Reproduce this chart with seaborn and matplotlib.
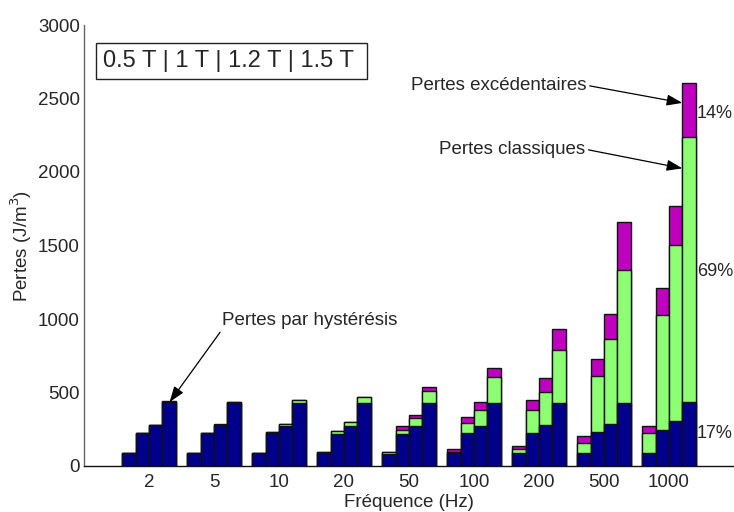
import matplotlib
matplotlib.use("Agg")
import matplotlib.pyplot as plt
import seaborn as sns
import pandas as pd

# Frequencies (x groups) and induction levels (bars in each group)
freqs = ['2', '5', '10', '20', '50', '100', '200', '500', '1000']
fields = ['0.5 T', '1 T', '1.2 T', '1.5 T']

# Hysteresis losses (J/m^3), one list per induction level
hyst_05 = [88, 88, 88, 88, 82, 88, 88, 88, 90]
hyst_10 = [224, 224, 224, 218, 218, 224, 224, 231, 245]
hyst_12 = [279, 279, 272, 272, 272, 272, 279, 286, 306]
hyst_15 = [435, 428, 428, 428, 428, 428, 428, 428, 435]

# Classical (eddy current) losses
class_05 = [0, 0, 1, 4, 10, 8, 30, 68, 134]
class_10 = [0, 2, 4, 18, 30, 70, 157, 381, 782]
class_12 = [0, 3, 12, 25, 55, 110, 224, 578, 1197]
class_15 = [3, 8, 18, 38, 85, 180, 361, 905, 1802]

# Excess losses
exc_05 = [0, 0, 0, 1, 6, 21, 21, 48, 50]
exc_10 = [0, 1, 2, 3, 25, 41, 68, 116, 183]
exc_12 = [0, 1, 3, 4, 22, 54, 95, 170, 265]
exc_15 = [1, 2, 4, 5, 22, 61, 143, 326, 367]

hyst = [hyst_05, hyst_10, hyst_12, hyst_15]
clas = [class_05, class_10, class_12, class_15]
exce = [exc_05, exc_10, exc_12, exc_15]

rows = []
for fi, field in enumerate(fields):
    for k, f in enumerate(freqs):
        h, c, e = hyst[fi][k], clas[fi][k], exce[fi][k]
        rows.append({'freq': f, 'field': field, 'hyst': h,
                     'hc': h + c, 'total': h + c + e})
df = pd.DataFrame(rows)

NAVY = '#00008B'
GREEN = '#8CFF73'
MAGENTA = '#BF00BF'

sns.set_style('white')
plt.rcParams['font.family'] = ['Liberation Sans', 'DejaVu Sans']
plt.rcParams['font.size'] = 13

fig = plt.figure(figsize=(7.34, 5.12), dpi=100)
ax = fig.add_axes([84 / 734, 46 / 512, (734 - 84) / 734, 441 / 512])

common = dict(data=df, x='freq', hue='field', order=freqs, hue_order=fields,
              width=0.82, gap=0, edgecolor='#111111', linewidth=1.0,
              saturation=1, errorbar=None, legend=False, ax=ax)
sns.barplot(y='total', palette=[MAGENTA] * 4, **common)
sns.barplot(y='hc', palette=[GREEN] * 4, **common)
sns.barplot(y='hyst', palette=[NAVY] * 4, **common)

ax.set_xlim(-1, 9)
ax.set_ylim(0, 3000)
ax.set_yticks(range(0, 3001, 500))
ax.set_xlabel('Fréquence (Hz)', fontsize=13.5, labelpad=2)
ax.set_ylabel('Pertes (J/m$^3$)', fontsize=13.5, labelpad=3)
ax.tick_params(axis='y', direction='in', length=5, width=1, color='#555555',
               labelsize=13.5, pad=3)
ax.tick_params(axis='x', length=0, labelsize=13.5, pad=6)

for side in ['top', 'right']:
    ax.spines[side].set_visible(False)
ax.spines['left'].set_color('#666666')
ax.spines['bottom'].set_color('#111111')
ax.spines['left'].set_linewidth(1)
ax.spines['bottom'].set_linewidth(1)

# Field levels box
ax.text(0.029, 0.918, '0.5 T | 1 T | 1.2 T | 1.5 T ', transform=ax.transAxes,
        fontsize=17, ha='left', va='center',
        bbox=dict(boxstyle='square,pad=0.3', fc='white', ec='#222222', lw=1))

arrow = dict(arrowstyle='-|>,head_length=0.7,head_width=0.25', color='black',
             lw=0.9, shrinkA=0, shrinkB=0)

# Arrow annotations on the bars
last = len(freqs) - 1
bar_w = 0.82 / 4
x_b4 = last + bar_w  # left edge of the 1.5 T bar in the last group
ax.annotate('Pertes par hystérésis', xy=(0 + bar_w * 1.5 + 0.01, hyst_15[0]),
            xytext=(1.13, 990), ha='left', va='center', fontsize=13.5,
            arrowprops=dict(arrow, relpos=(0.0, 0.0)))
ax.annotate('Pertes excédentaires', xy=(x_b4, 2470), xytext=(6.73, 2590),
            ha='right', va='center', fontsize=13.5,
            arrowprops=dict(arrow, relpos=(1.0, 0.5)))
ax.annotate('Pertes classiques', xy=(x_b4, 2025), xytext=(6.71, 2155),
            ha='right', va='center', fontsize=13.5,
            arrowprops=dict(arrow, relpos=(1.0, 0.5)))

# Share of each loss component for the 1000 Hz, 1.5 T bar
h, c, e = hyst_15[last], class_15[last], exce[3][last]
tot = h + c + e
xt = last + 0.43
ax.text(xt, 2400, f'{round(100 * e / tot)}%', fontsize=13, va='center', ha='left')
ax.text(xt, 1320, f'{round(100 * c / tot)}%', fontsize=13, va='center', ha='left')
ax.text(xt, 218, f'{round(100 * h / tot)}%', fontsize=13, va='center', ha='left')

fig.savefig('out.png', dpi=100)
